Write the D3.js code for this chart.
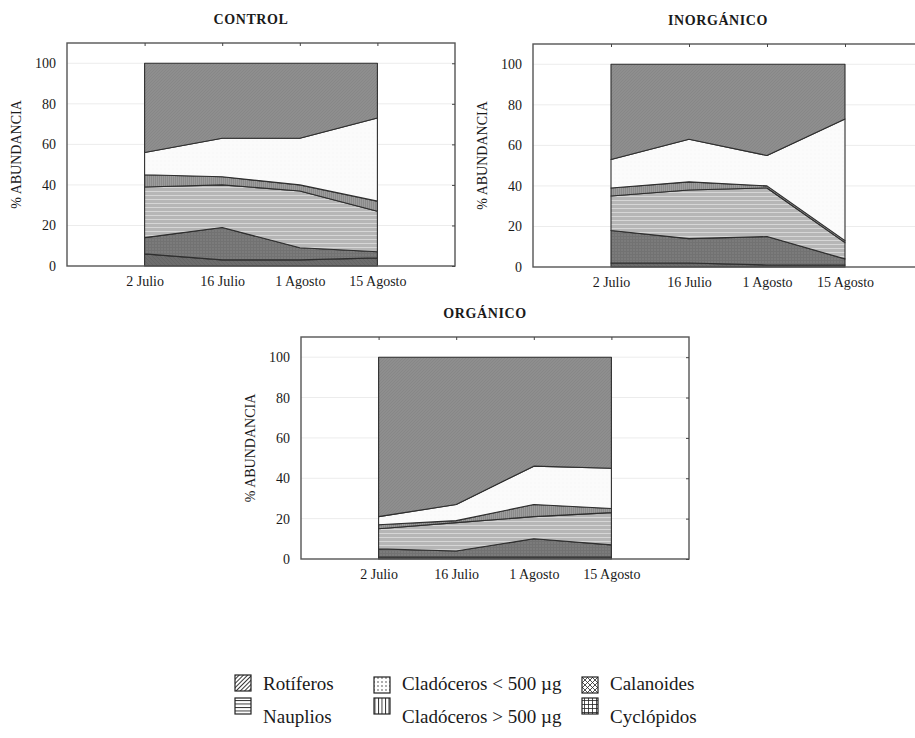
<!DOCTYPE html>
<html>
<head>
<meta charset="utf-8">
<script src="https://cdn.jsdelivr.net/npm/d3@7"></script>
<style>
  body { margin: 0; background: #fff; }
  text { font-family: "Liberation Serif", "DejaVu Serif", serif; fill: #1a1a1a; }
</style>
</head>
<body>
<script>
// fechas de muestreo
const fechas = ["2 Julio", "16 Julio", "1 Agosto", "15 Agosto"];
// grupos, de abajo hacia arriba en el apilado
const grupos = ["Calanoides", "Cyclópidos", "Nauplios", "Cladóceros > 500 µg", "Cladóceros < 500 µg", "Rotíferos"];
const yTicks = [0, 20, 40, 60, 80, 100];

// % abundancia: una fila por grupo (orden de grupos), una columna por fecha
const control = [
  [6, 3, 3, 4],
  [8, 16, 6, 3],
  [25, 21, 28, 20],
  [6, 4, 3, 5],
  [11, 19, 23, 41],
  [44, 37, 37, 27]
];
const inorganico = [
  [2, 2, 1, 1],
  [16, 12, 14, 3],
  [17, 24, 24, 8],
  [4, 4, 1, 1],
  [14, 21, 15, 60],
  [47, 37, 45, 27]
];
const organico = [
  [1, 1, 1, 1],
  [4, 3, 9, 6],
  [10, 14, 11, 16],
  [2, 1, 6, 2],
  [4, 8, 19, 20],
  [79, 73, 54, 55]
];

const W = 915, H = 738;
const svg = d3.select("body").append("svg")
  .attr("width", W).attr("height", H)
  .attr("viewBox", [0, 0, W, H]);

const defs = svg.append("defs");

// rellenos grises del grafico (escaneado)
function pat(id, w, h, bg, draw, rot) {
  const p = defs.append("pattern").attr("id", id)
    .attr("patternUnits", "userSpaceOnUse")
    .attr("width", w).attr("height", h);
  if (rot) p.attr("patternTransform", `rotate(${rot})`);
  p.append("rect").attr("width", w).attr("height", h).attr("fill", bg);
  draw(p);
  return p;
}
const ln = (p, x1, y1, x2, y2, c, sw) => p.append("line")
  .attr("x1", x1).attr("y1", y1).attr("x2", x2).attr("y2", y2)
  .attr("stroke", c).attr("stroke-width", sw || 1);

pat("c0", 4, 4, "#6c6c6c", p => ln(p, 0, 0, 4, 4, "#646464"));
pat("c1", 3, 3, "#7b7b7b", p => { ln(p, 0, 0.5, 3, 0.5, "#727272"); ln(p, 0.5, 0, 0.5, 3, "#727272"); });
pat("c2", 4, 4, "#b6b6b6", p => ln(p, 0, 0.5, 4, 0.5, "#d6d6d6"));
pat("c3", 2, 2, "#9c9c9c", p => ln(p, 0.5, 0, 0.5, 2, "#8a8a8a"));
pat("c4", 4, 4, "#fbfbfb", p => p.append("circle").attr("cx", 2).attr("cy", 2).attr("r", 0.4).attr("fill", "#ececec"));
pat("c5", 3, 3, "#8e8e8e", p => ln(p, 0, 3, 3, 0, "#878787"));

// tramas de la leyenda (negro sobre blanco)
pat("l0", 5, 5, "#fff", p => { ln(p, 0, 0, 5, 5, "#222", 0.8); ln(p, 5, 0, 0, 5, "#222", 0.8); });
pat("l1", 4, 4, "#fff", p => { ln(p, 0, 0.5, 4, 0.5, "#222", 0.8); ln(p, 0.5, 0, 0.5, 4, "#222", 0.8); });
pat("l2", 3, 3.5, "#fff", p => ln(p, 0, 0.5, 3, 0.5, "#222", 0.9));
pat("l3", 3.5, 3, "#fff", p => ln(p, 0.5, 0, 0.5, 3, "#222", 0.9));
pat("l4", 4, 4, "#fff", p => p.append("circle").attr("cx", 2).attr("cy", 2).attr("r", 0.7).attr("fill", "#222"));
pat("l5", 3, 3, "#fff", p => ln(p, 1.5, 0, 1.5, 3, "#222", 0.9), 45);

function panel(title, vals, left, top, w, h) {
  const g = svg.append("g").attr("transform", `translate(${left},${top})`);
  const x = d3.scaleLinear().domain([-1, fechas.length]).range([0, w]);
  const y = d3.scaleLinear().domain([0, 110]).range([h, 0]);

  const rows = fechas.map((f, i) => {
    const o = { i };
    grupos.forEach((k, j) => o[k] = vals[j][i]);
    return o;
  });
  const series = d3.stack().keys(grupos)(rows);

  // rejilla
  g.append("g").selectAll("line").data(yTicks.slice(1)).join("line")
    .attr("x1", 0).attr("x2", w)
    .attr("y1", d => y(d)).attr("y2", d => y(d))
    .attr("stroke", "#ececec");

  const area = d3.area()
    .x(d => x(d.data.i))
    .y0(d => y(d[0]))
    .y1(d => y(d[1]));

  g.append("g").selectAll("path").data(series).join("path")
    .attr("d", area)
    .attr("fill", (d, i) => `url(#c${i})`)
    .attr("stroke", "#2e2e2e")
    .attr("stroke-width", 1.1)
    .attr("stroke-linejoin", "round");

  // marco y ejes
  g.append("rect").attr("width", w).attr("height", h)
    .attr("fill", "none").attr("stroke", "#555").attr("stroke-width", 1.4);

  const idx = fechas.map((f, i) => i);
  g.append("g").attr("transform", `translate(0,${h})`)
    .call(d3.axisBottom(x).tickValues(idx).tickFormat(i => fechas[i]).tickSize(0).tickPadding(10))
    .call(a => a.select(".domain").remove())
    .selectAll("text").attr("font-size", 14).attr("font-family", "Liberation Serif").attr("fill", "#1a1a1a");

  g.append("g")
    .call(d3.axisLeft(y).tickValues(yTicks).tickSize(0).tickPadding(11))
    .call(a => a.select(".domain").remove())
    .selectAll("text").attr("font-size", 14).attr("font-family", "Liberation Serif").attr("fill", "#1a1a1a");

  g.append("g")
    .call(d3.axisTop(x).tickValues(idx).tickFormat("").tickSize(-3))
    .call(a => a.select(".domain").remove())
    .selectAll("line").attr("stroke", "#444");

  g.append("g").attr("transform", `translate(${w},0)`)
    .call(d3.axisRight(y).tickValues(yTicks).tickFormat("").tickSize(-3))
    .call(a => a.select(".domain").remove())
    .selectAll("line").attr("stroke", "#444");

  g.append("text")
    .attr("transform", `translate(${-46},${h / 2}) rotate(-90)`)
    .attr("text-anchor", "middle")
    .attr("font-size", 14)
    .text("% ABUNDANCIA");

  g.append("text")
    .attr("x", w / 2 - 10).attr("y", -19)
    .attr("text-anchor", "middle")
    .attr("font-size", 14).attr("font-weight", "bold")
    .attr("letter-spacing", 0.6)
    .text(title);
}

panel("CONTROL", control, 67, 43, 388, 223);
panel("INORGÁNICO", inorganico, 533, 44, 390, 223);
panel("ORGÁNICO", organico, 301, 337, 388, 222);

// leyenda
const leyenda = [
  { k: "Rotíferos", l: "l5", x: 235, y: 675, ty: 690 },
  { k: "Cladóceros < 500 µg", l: "l4", x: 374, y: 677, ty: 690 },
  { k: "Calanoides", l: "l0", x: 582, y: 677, ty: 690 },
  { k: "Nauplios", l: "l2", x: 235, y: 698, ty: 723 },
  { k: "Cladóceros > 500 µg", l: "l3", x: 374, y: 698, ty: 723 },
  { k: "Cyclópidos", l: "l1", x: 582, y: 698, ty: 723 }
];
const lg = svg.append("g").selectAll("g").data(leyenda).join("g");
lg.append("rect")
  .attr("x", d => d.x).attr("y", d => d.y)
  .attr("width", 16).attr("height", 16)
  .attr("fill", d => `url(#${d.l})`)
  .attr("stroke", "#222").attr("stroke-width", 1.2);
lg.append("text")
  .attr("x", d => d.x + 28).attr("y", d => d.ty)
  .attr("font-size", 19)
  .text(d => d.k);
</script>
</body>
</html>
